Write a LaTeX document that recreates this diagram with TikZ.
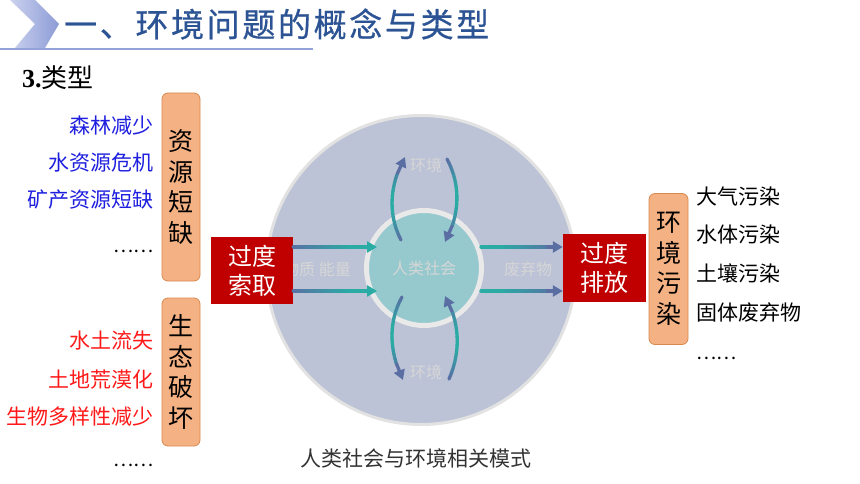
\documentclass[tikz,border=0pt]{standalone}
\usepackage{fontspec}
\setmainfont{Noto Sans CJK SC}
\newfontfamily\timesfont{Liberation Serif}
\usetikzlibrary{arrows.meta,calc}
\definecolor{titleblue}{HTML}{2C5394}
\definecolor{chevL}{HTML}{CBD2EE}
\definecolor{chevR}{HTML}{8C9BD6}
\definecolor{ruleblue}{HTML}{93A3DA}
\definecolor{outerfill}{HTML}{BCC3D6}
\definecolor{outerrim}{HTML}{E2E2E2}
\definecolor{innerfill}{HTML}{96C9CE}
\definecolor{innerrim}{HTML}{E9E9E9}
\definecolor{slate}{HTML}{5B6EA4}
\definecolor{tealc}{HTML}{2AABA4}
\definecolor{boxred}{HTML}{C00000}
\definecolor{orangefill}{HTML}{F4B183}
\definecolor{orangerim}{HTML}{D98A4E}
\definecolor{listblue}{HTML}{1F1FE0}
\definecolor{listred}{HTML}{FF1A1A}
\definecolor{ghost}{HTML}{D6D6D6}
\definecolor{captiongray}{HTML}{333333}
\newcommand\gradline[2]{%
  \foreach \k in {1,...,16}{%
    \pgfmathtruncatemacro\km{\k-1}%
    \pgfmathtruncatemacro\w{#2}%
    \draw[seg, slate!\w!tealc] (#1-\km) -- (#1-\k);}
  \begingroup\def\k{20}%
  \pgfmathtruncatemacro\wend{max(0,min(100,(#2)))}%
  \draw[seg, line cap=butt, slate!\wend!tealc, -{Triangle[length=10pt,width=11pt]}] (#1-16) -- (#1-20);
  \endgroup
}
\begin{document}
\begin{tikzpicture}[x=1pt,y=-1pt,
  seg/.style={line width=3.3pt, line cap=round},
  redbox/.style={rectangle, fill=boxred, text=white, align=center,
    font={\fontsize{24}{29}\selectfont}, inner sep=0pt},
  orangebox/.style={rectangle, rounded corners=6pt, fill=orangefill, draw=orangerim,
    line width=0.8pt, align=center, inner sep=0pt, font={\fontsize{25}{30.5}\selectfont}},
  ghosttext/.style={text=ghost, font={\fontsize{16}{18}\selectfont}, inner sep=0pt},
  listfont/.style={inner sep=0pt, font={\fontsize{21}{24}\selectfont}},
  dots/.style={inner sep=0pt, font={\fontsize{19}{20}\selectfont}},
  bluelist/.style={listfont, text=listblue, anchor=east},
  redlist/.style={listfont, text=listred, anchor=east},
  blacklist/.style={listfont, text=black, anchor=west}]
\useasboundingbox (0,0) rectangle (860,484);
\fill[white] (0,0) rectangle (860,484);

% header
\shade[left color=chevL, right color=chevR] (10,0) -- (35,0) -- (59,24) -- (45,48) -- (15,48) -- (35,24) -- cycle;
\draw[ruleblue, line width=2pt] (0,49) -- (313,49);
\node[anchor=west, inner sep=0pt, text=titleblue,
  font={\fontsize{33}{36}\selectfont\addfontfeatures{LetterSpace=8,FakeBold=0.6}}] (title) at (64,24) {一、环境问题的概念与类型};
\node[anchor=west, inner sep=0pt, font={\fontsize{26}{30}\selectfont}] (sub) at (22,78) {{\timesfont\bfseries 3.}类型};

% circles
\node[circle, minimum size=309pt, fill=outerfill, draw=outerrim, line width=3pt] (env) at (421,270) {};
\node[circle, minimum size=115pt, fill=innerfill, draw=innerrim, line width=5pt] (soc) at (424,268) {};
\node[ghosttext] (soclabel) at (soc) {人类社会};
\node[ghosttext] (envtop) at (426,165) {环境};
\node[ghosttext] (envbot) at (426,372) {环境};
\node[ghosttext, anchor=east] (matter) at (351,269) {物质 能量};
\node[ghosttext] (waste) at (528,269) {废弃物};

% red boxes
\node[redbox, minimum width=82pt, minimum height=67pt] (take) at (252,270.5) {过度\\索取};
\node[redbox, minimum width=83pt, minimum height=68pt] (emit) at (604.5,268) {过度\\排放};

% horizontal arrows
\path ([yshift=23.5pt]take.east) -- ([xshift=-47pt,yshift=21pt]soc.center) \foreach \k in {0,...,20}{coordinate[pos=\k/20] (ha-\k)};
\path ([yshift=-20.5pt]take.east) -- ([xshift=-47pt,yshift=-23pt]soc.center) \foreach \k in {0,...,20}{coordinate[pos=\k/20] (hb-\k)};
\path ([xshift=57pt,yshift=21pt]soc.center) -- ([yshift=21pt]emit.west) \foreach \k in {0,...,20}{coordinate[pos=\k/20] (hc-\k)};
\path ([xshift=57pt,yshift=-23pt]soc.center) -- ([yshift=-23pt]emit.west) \foreach \k in {0,...,20}{coordinate[pos=\k/20] (hd-\k)};
\gradline{ha}{max(0,100-7*\k)}
\gradline{hb}{max(0,100-7*\k)}
\gradline{hc}{min(100,max(0,7*\k-40))}
\gradline{hd}{min(100,max(0,7*\k-40))}

% curved arrows
\coordinate (tl0) at (401,240); \coordinate (tl3) at (405,157);
\coordinate (tr0) at (447,159); \coordinate (tr3) at (445,242);
\coordinate (bl0) at (402,297); \coordinate (bl3) at (403,380);
\coordinate (br0) at (449,379); \coordinate (br3) at (445,296);
\path (tl0) .. controls (388,215) and (389,185) .. (tl3) \foreach \k in {0,...,20}{coordinate[pos=\k/20] (ca-\k)};
\path (tr0) .. controls (461,185) and (460,215) .. (tr3) \foreach \k in {0,...,20}{coordinate[pos=\k/20] (cb-\k)};
\path (bl0) .. controls (388,322) and (389,352) .. (bl3) \foreach \k in {0,...,20}{coordinate[pos=\k/20] (cc-\k)};
\path (br0) .. controls (461,352) and (460,322) .. (br3) \foreach \k in {0,...,20}{coordinate[pos=\k/20] (cd-\k)};
\gradline{ca}{min(100,max(0,abs(2*\k-20)*7-30))}
\gradline{cb}{min(100,max(0,abs(2*\k-20)*7-30))}
\gradline{cc}{min(100,max(0,abs(2*\k-20)*7-30))}
\gradline{cd}{min(100,max(0,abs(2*\k-20)*7-30))}

% orange boxes
\node[orangebox, minimum width=38pt, minimum height=188pt] (res) at (181,187) {资\\源\\短\\缺};
\node[orangebox, minimum width=38pt, minimum height=148pt] (eco) at (181,372) {生\\态\\破\\坏};
\node[orangebox, minimum width=39pt, minimum height=151pt] (pol) at (668.5,269) {环\\境\\污\\染};

% left lists
\node[bluelist] (b1) at (154,126) {森林减少};
\node[bluelist] (b2) at (154,163) {水资源危机};
\node[bluelist] (b3) at (154,200) {矿产资源短缺};
\node[dots, anchor=base east] (b4) at (154,252) {……};
\node[redlist] (r1) at (154,341) {水土流失};
\node[redlist] (r2) at (154,380) {土地荒漠化};
\node[redlist] (r3) at (154,417) {生物多样性减少};
\node[dots, anchor=base east] (r4) at (154,466) {……};

% right list
\node[blacklist] (p1) at (696,196) {大气污染};
\node[blacklist] (p2) at (696,235) {水体污染};
\node[blacklist] (p3) at (696,273) {土壤污染};
\node[blacklist] (p4) at (696,312) {固体废弃物};
\node[dots, anchor=base west] (p5) at (696,359) {……};

% caption
\node[listfont, text=captiongray] (cap) at (416,458) {人类社会与环境相关模式};
\end{tikzpicture}
\end{document}
